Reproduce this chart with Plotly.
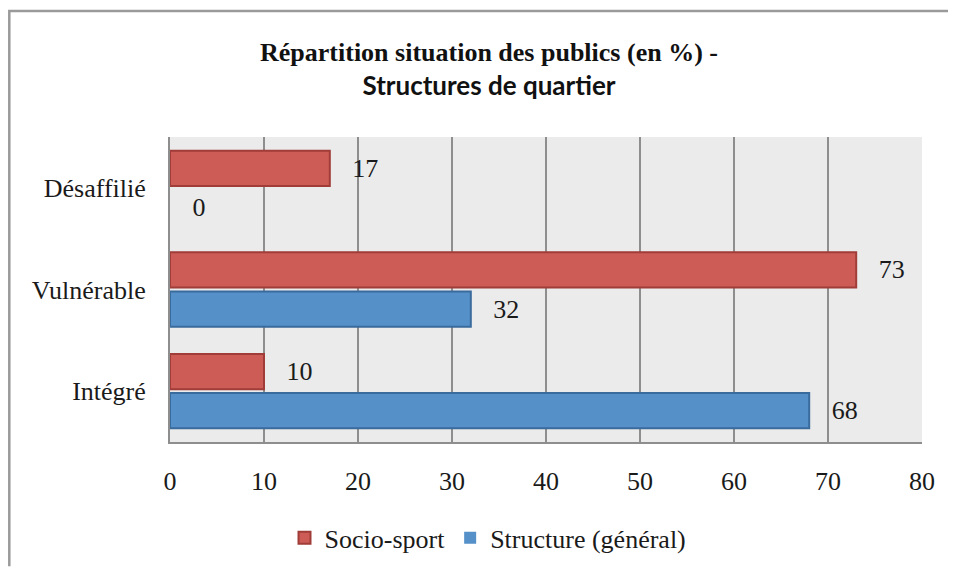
import plotly.graph_objects as go

categories = ["Désaffilié", "Vulnérable", "Intégré"]
socio_sport = [17, 73, 10]
structure_general = [0, 32, 68]
x_ticks = [0, 10, 20, 30, 40, 50, 60, 70, 80]
series_names = ["Socio-sport", "Structure (général)"]
title_line1 = "Répartition situation des publics (en %) -"
title_line2 = "Structures de quartier"

SERIF = "Liberation Serif, Times New Roman, serif"
PAD = "\u00a0\u00a0\u00a0"
FS = 26

# page body has an 8px margin: figure pixel = reference pixel - 8
OFF = 8
W, H = 957 - 2 * OFF, 581 - 2 * OFF
L, R, T, B = 170 - OFF, W - (922 - OFF), 137 - OFF, H - (446 - OFF)
pw, ph = W - L - R, H - T - B


def fx(p):
    """figure pixel -> paper x"""
    return (p - L) / pw


def fy(p):
    """figure pixel -> paper y"""
    return (H - B - p) / ph


def px_x(p):
    return fx(p - OFF)


def px_y(p):
    return fy(p - OFF)


def add_series(values, name, fill, edge):
    fig.add_trace(go.Bar(
        y=categories, x=values, orientation="h", name=name,
        marker=dict(color=fill, line=dict(color=edge, width=[0 if v == 0 else 2 for v in values])),
        text=[PAD + str(v) for v in values], textposition="outside",
        textfont=dict(family=SERIF, size=FS, color="#1a1a1a"), cliponaxis=False,
    ))


fig = go.Figure()
add_series(socio_sport, series_names[0], "#CD5C57", "#A03D39")
add_series(structure_general, series_names[1], "#5591C8", "#3A6B9D")

# outer frame (left and top edges) as one open path inside the figure bounds
frame_color = "#9A9A9A"
frame_path = "M {:.5f},{:.5f} L {:.5f},{:.5f} L {:.5f},{:.5f}".format(
    fx(1.3), fy(H - 1), fx(1.3), fy(1.3), fx(W - 1), fy(1.3))
shapes = [
    dict(type="path", xref="paper", yref="paper", path=frame_path,
         line=dict(color=frame_color, width=2.5), fillcolor="rgba(0,0,0,0)"),
]

fig.update_layout(
    width=W, height=H,
    margin=dict(l=L, r=R, t=T, b=B),
    paper_bgcolor="white",
    plot_bgcolor="#EBEBEB",
    barmode="group", bargap=0.23, bargroupgap=0.1,
    showlegend=True,
    legend=dict(orientation="h", x=px_x(488), xanchor="center",
                y=px_y(543), yanchor="middle",
                font=dict(family=SERIF, size=FS, color="#1a1a1a"),
                traceorder="normal", itemwidth=30),
    title=dict(
        text=title_line1 + "<br><span style='font-family:Lato, Open Sans, sans-serif;'>" + title_line2 + "</span>",
        x=(489 - OFF) / W, xanchor="center",
        y=1 - (61 - OFF) / H, yanchor="middle",
        font=dict(family=SERIF, size=FS, color="#111111", weight="bold"),
    ),
    shapes=shapes,
    hovermode=False,
)

fig.update_xaxes(
    range=[0, 80], tickvals=x_ticks, ticktext=[str(v) for v in x_ticks],
    showgrid=True, gridcolor="#8E8E8E", gridwidth=2,
    showline=True, linecolor="#8E8E8E", linewidth=2,
    zeroline=False, ticks="", ticklabelstandoff=15,
    tickfont=dict(family=SERIF, size=FS, color="#1a1a1a"),
    fixedrange=True,
)
fig.update_yaxes(
    categoryorder="array", categoryarray=categories, autorange="reversed",
    showgrid=False, showline=True, linecolor="#8E8E8E", linewidth=2,
    ticks="", ticklabelstandoff=17,
    tickfont=dict(family=SERIF, size=FS, color="#1a1a1a"),
    fixedrange=True,
)

fig.write_html("out.html", config={"displayModeBar": False})
